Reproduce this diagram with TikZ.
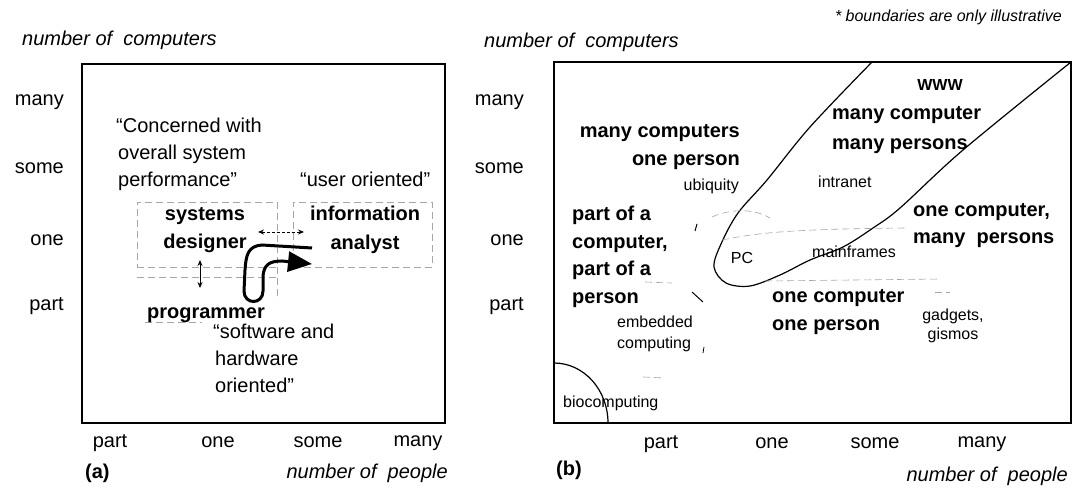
\documentclass[tikz,border=0pt]{standalone}
\usepackage{fontspec}
\setmainfont{Liberation Sans}
\usetikzlibrary{arrows.meta}
\begin{document}
\begin{tikzpicture}[x=1pt,y=-1pt,
  every node/.style={inner sep=0pt, yshift=-3pt, font=\fontsize{20}{24}\selectfont},
  bld/.style={font=\fontsize{20}{24}\selectfont\bfseries},
  sml/.style={font=\fontsize{16}{20}\selectfont},
  ital/.style={font=\fontsize{20}{24}\selectfont\itshape},
  note/.style={font=\fontsize{16}{20}\selectfont\itshape},
  frame/.style={draw, line width=1.3pt},
  faint/.style={draw=black!35, line width=0.6pt, dash pattern=on 7pt off 4pt},
  bnd/.style={draw, line width=1.2pt},
  hook/.style={draw, line width=3pt, -{Triangle[length=24pt,width=20pt]}},
  smallarr/.style={line width=0.8pt, {Stealth[length=6pt,width=5pt]}-{Stealth[length=6pt,width=5pt]}},
]
\useasboundingbox[fill=white] (0,0) rectangle (1079,500);

% ---------------- panel (a) ----------------
\node[ital, anchor=mid west] (ya) at (22,40) {number of\ \ computers};
\draw[frame] (82,64) rectangle (445,423);
\node[anchor=mid east] (am) at (64,100) {many};
\node[anchor=mid east] (as) at (64,168) {some};
\node[anchor=mid east] (ao) at (64,240) {one};
\node[anchor=mid east] (ap) at (64,305) {part};
\node[anchor=mid] (ax1) at (110,442) {part};
\node[anchor=mid] (ax2) at (218,442) {one};
\node[anchor=mid] (ax3) at (318,442) {some};
\node[anchor=mid] (ax4) at (418,441) {many};
\node[bld, anchor=mid west] (alab) at (85,473) {(a)};
\node[ital, anchor=mid east] (apeo) at (448,473) {number of\ \ people};

\node[anchor=mid west] (c1) at (116,127) {“Concerned with};
\node[anchor=mid west] (c2) at (118,154) {overall system};
\node[anchor=mid west] (c3) at (118,181) {performance”};
\node[anchor=mid west] (uo) at (300,181) {“user oriented”};

\node[faint, yshift=3pt, minimum width=140pt, minimum height=65pt] (sdbox) at (207,234.5) {};
\node[faint, yshift=3pt, minimum width=139pt, minimum height=65pt] (iabox) at (362.5,234.5) {};
\draw[faint] (137,277) -- (277,277);
\draw[faint] (sdbox.south east) -- ++(0,33);
\draw[faint] (145,322) -- (202,322);

\node[bld, anchor=mid] (sd1) at (205,215) {systems};
\node[bld, anchor=mid] (sd2) at (205,243) {designer};
\node[bld, anchor=mid] (ia1) at (365,215) {information};
\node[bld, anchor=mid] (ia2) at (365,244) {analyst};

\coordinate (da1) at (258,229);
\coordinate (da2) at (304,229);
\draw[smallarr, dash pattern=on 3pt off 2pt] (da1) -- (da2);
\coordinate (va1) at (200,257);
\coordinate (va2) at (200,285);
\draw[smallarr] (va1) -- (va2);

\coordinate (h0) at (312,245);
\coordinate (h1) at (312,261);
\draw[hook] (h0) -- (262,245) .. controls (248,246) and (246,255) .. (245,270)
  -- (244,291) .. controls (244,305) and (263,305) .. (263,291)
  -- (263,276) .. controls (264,265) and (269,261) .. (282,261) -- (h1);

\node[bld, anchor=mid] (prog) at (206,313) {programmer};
\node[anchor=mid west] (s1) at (213,333) {“software and};
\node[anchor=mid west] (s2) at (215,360) {hardware};
\node[anchor=mid west] (s3) at (215,387) {oriented”};

% ---------------- panel (b) ----------------
\node[ital, anchor=mid west] (yb) at (484,42) {number of\ \ computers};
\node[note, anchor=mid east] (nt) at (1062,16) {* boundaries are only illustrative};
\draw[frame] (554,62) rectangle (1071,423);
\node[anchor=mid east] (bm) at (524,100) {many};
\node[anchor=mid east] (bs) at (524,168) {some};
\node[anchor=mid east] (bo) at (524,240) {one};
\node[anchor=mid east] (bp) at (524,305) {part};
\node[anchor=mid] (bx1) at (661,443) {part};
\node[anchor=mid] (bx2) at (772,443) {one};
\node[anchor=mid] (bx3) at (875,443) {some};
\node[anchor=mid] (bx4) at (982,442) {many};
\node[bld, anchor=mid west] (blab) at (556,470) {(b)};
\node[ital, anchor=mid east] (bpeo) at (1068,476) {number of\ \ people};

% boundaries
\draw[bnd] plot[smooth, tension=0.55] coordinates {(872,62) (810,127) (767,180) (738,213) (721,244) (714,267) (726,283) (750,286) (780,275) (810,260) (843,247) (873,228) (900,208) (963,150) (1071,62)};
\draw[bnd] (554,363) .. controls (584,363) and (608,390) .. (608,423);

% faint remnants
\draw[faint] (712,217) .. controls (732,208) and (755,209) .. (770,218);
\draw[faint] (722,240) .. controls (760,232) and (800,229) .. (907,228);
\draw[faint] (645,282) -- (672,283);
\draw[faint] (765,281) -- (940,279);
\draw[faint] (935,292) -- (950,292);
\draw[faint] (643,377) -- (665,378);
\draw[line width=1pt] (692,292) -- (703,302);
\draw[line width=1pt] (697,224) -- (695,231);
\draw[line width=0.8pt] (704,347) -- (703,353);

\node[bld, anchor=mid east] (mc1) at (740,132) {many computers};
\node[bld, anchor=mid east] (mc2) at (740,160) {one person};
\node[sml, anchor=mid east] (ubi) at (739,185) {ubiquity};
\node[bld, anchor=mid west] (pc1) at (572,215) {part of a};
\node[bld, anchor=mid west] (pc2) at (572,243) {computer,};
\node[bld, anchor=mid west] (pc3) at (572,270) {part of a};
\node[bld, anchor=mid west] (pc4) at (572,298) {person};
\node[sml, anchor=mid west] (emb1) at (617,322) {embedded};
\node[sml, anchor=mid west] (emb2) at (617,343) {computing};
\node[sml, anchor=mid west] (bio) at (563,402) {biocomputing};
\node[sml, anchor=mid] (pc) at (742,258) {PC};
\node[sml, anchor=mid west] (mf) at (812,252) {mainframes};
\node[bld, anchor=mid west] (oc1) at (772,297) {one computer};
\node[bld, anchor=mid west] (oc2) at (772,325) {one person};
\node[sml, anchor=mid] (gad1) at (953,315) {gadgets,};
\node[sml, anchor=mid] (gad2) at (953,334) {gismos};
\node[anchor=mid, font=\fontsize{16}{20}\selectfont\bfseries] (www) at (940,85) {WWW};
\node[bld, anchor=mid west] (mcp1) at (832,114) {many computer};
\node[bld, anchor=mid west] (mcp2) at (832,144) {many persons};
\node[sml, anchor=mid west] (intr) at (818,182) {intranet};
\node[bld, anchor=mid west] (ocm1) at (913,211) {one computer,};
\node[bld, anchor=mid west] (ocm2) at (913,238) {many\ \ persons};
\end{tikzpicture}
\end{document}
